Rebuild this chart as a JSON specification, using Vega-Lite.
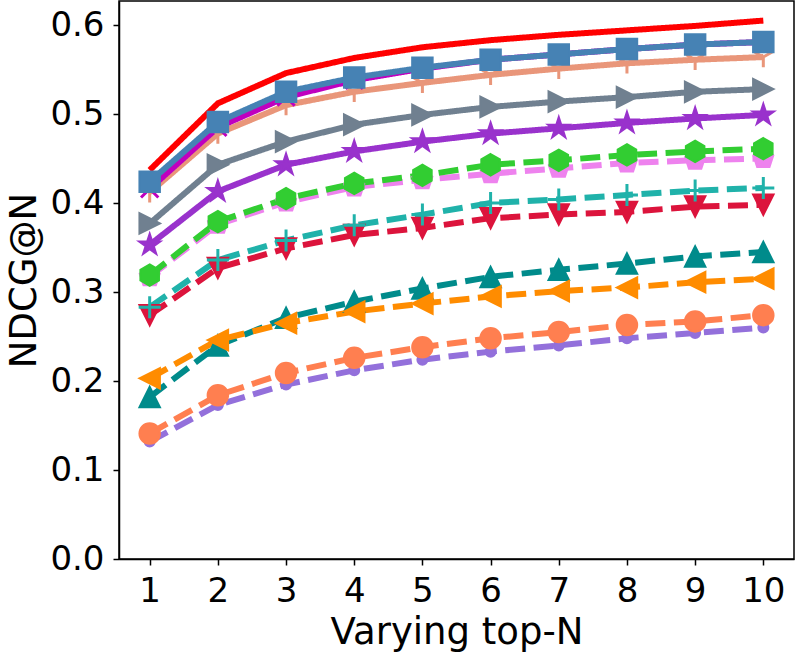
{
  "$schema": "https://vega.github.io/schema/vega-lite/v6.json",
  "width": 675,
  "height": 558,
  "autosize": {"type": "none"},
  "padding": {"left": 119, "top": 1, "right": 3, "bottom": 98},
  "background": "white",
  "config": {
    "font": "DejaVu Sans",
    "view": {"stroke": "black", "strokeWidth": 1.5},
    "axis": {
      "grid": false,
      "domainColor": "black",
      "domainWidth": 1.5,
      "tickColor": "black",
      "tickWidth": 1.5,
      "tickSize": 6,
      "labelFont": "DejaVu Sans",
      "labelFontSize": 34,
      "labelColor": "black",
      "labelPadding": 9,
      "titleFont": "DejaVu Sans",
      "titleFontSize": 37,
      "titleFontWeight": "normal",
      "titleColor": "black"
    }
  },
  "data": {
    "values": [
      {"s": "S01", "n": 1, "v": 0.132}, {"s": "S01", "n": 2, "v": 0.173}, {"s": "S01", "n": 3, "v": 0.196}, {"s": "S01", "n": 4, "v": 0.212}, {"s": "S01", "n": 5, "v": 0.224}, {"s": "S01", "n": 6, "v": 0.233}, {"s": "S01", "n": 7, "v": 0.240}, {"s": "S01", "n": 8, "v": 0.248}, {"s": "S01", "n": 9, "v": 0.254}, {"s": "S01", "n": 10, "v": 0.260},
      {"s": "S02", "n": 1, "v": 0.141}, {"s": "S02", "n": 2, "v": 0.184}, {"s": "S02", "n": 3, "v": 0.209}, {"s": "S02", "n": 4, "v": 0.226}, {"s": "S02", "n": 5, "v": 0.238}, {"s": "S02", "n": 6, "v": 0.248}, {"s": "S02", "n": 7, "v": 0.255}, {"s": "S02", "n": 8, "v": 0.263}, {"s": "S02", "n": 9, "v": 0.267}, {"s": "S02", "n": 10, "v": 0.274},
      {"s": "S03", "n": 1, "v": 0.182}, {"s": "S03", "n": 2, "v": 0.240}, {"s": "S03", "n": 3, "v": 0.271}, {"s": "S03", "n": 4, "v": 0.289}, {"s": "S03", "n": 5, "v": 0.304}, {"s": "S03", "n": 6, "v": 0.317}, {"s": "S03", "n": 7, "v": 0.325}, {"s": "S03", "n": 8, "v": 0.332}, {"s": "S03", "n": 9, "v": 0.340}, {"s": "S03", "n": 10, "v": 0.345},
      {"s": "S04", "n": 1, "v": 0.203}, {"s": "S04", "n": 2, "v": 0.246}, {"s": "S04", "n": 3, "v": 0.265}, {"s": "S04", "n": 4, "v": 0.278}, {"s": "S04", "n": 5, "v": 0.287}, {"s": "S04", "n": 6, "v": 0.295}, {"s": "S04", "n": 7, "v": 0.301}, {"s": "S04", "n": 8, "v": 0.305}, {"s": "S04", "n": 9, "v": 0.311}, {"s": "S04", "n": 10, "v": 0.315},
      {"s": "S05", "n": 1, "v": 0.274}, {"s": "S05", "n": 2, "v": 0.327}, {"s": "S05", "n": 3, "v": 0.349}, {"s": "S05", "n": 4, "v": 0.364}, {"s": "S05", "n": 5, "v": 0.372}, {"s": "S05", "n": 6, "v": 0.383}, {"s": "S05", "n": 7, "v": 0.387}, {"s": "S05", "n": 8, "v": 0.390}, {"s": "S05", "n": 9, "v": 0.396}, {"s": "S05", "n": 10, "v": 0.398},
      {"s": "S06", "n": 1, "v": 0.283}, {"s": "S06", "n": 2, "v": 0.336}, {"s": "S06", "n": 3, "v": 0.358}, {"s": "S06", "n": 4, "v": 0.375}, {"s": "S06", "n": 5, "v": 0.387}, {"s": "S06", "n": 6, "v": 0.400}, {"s": "S06", "n": 7, "v": 0.404}, {"s": "S06", "n": 8, "v": 0.409}, {"s": "S06", "n": 9, "v": 0.414}, {"s": "S06", "n": 10, "v": 0.417},
      {"s": "S07", "n": 1, "v": 0.317}, {"s": "S07", "n": 2, "v": 0.376}, {"s": "S07", "n": 3, "v": 0.401}, {"s": "S07", "n": 4, "v": 0.418}, {"s": "S07", "n": 5, "v": 0.426}, {"s": "S07", "n": 6, "v": 0.433}, {"s": "S07", "n": 7, "v": 0.439}, {"s": "S07", "n": 8, "v": 0.445}, {"s": "S07", "n": 9, "v": 0.448}, {"s": "S07", "n": 10, "v": 0.450},
      {"s": "S08", "n": 1, "v": 0.319}, {"s": "S08", "n": 2, "v": 0.379}, {"s": "S08", "n": 3, "v": 0.405}, {"s": "S08", "n": 4, "v": 0.422}, {"s": "S08", "n": 5, "v": 0.431}, {"s": "S08", "n": 6, "v": 0.443}, {"s": "S08", "n": 7, "v": 0.448}, {"s": "S08", "n": 8, "v": 0.454}, {"s": "S08", "n": 9, "v": 0.458}, {"s": "S08", "n": 10, "v": 0.461},
      {"s": "S09", "n": 1, "v": 0.353}, {"s": "S09", "n": 2, "v": 0.413}, {"s": "S09", "n": 3, "v": 0.443}, {"s": "S09", "n": 4, "v": 0.458}, {"s": "S09", "n": 5, "v": 0.469}, {"s": "S09", "n": 6, "v": 0.478}, {"s": "S09", "n": 7, "v": 0.484}, {"s": "S09", "n": 8, "v": 0.490}, {"s": "S09", "n": 9, "v": 0.495}, {"s": "S09", "n": 10, "v": 0.499},
      {"s": "S10", "n": 1, "v": 0.377}, {"s": "S10", "n": 2, "v": 0.443}, {"s": "S10", "n": 3, "v": 0.469}, {"s": "S10", "n": 4, "v": 0.488}, {"s": "S10", "n": 5, "v": 0.499}, {"s": "S10", "n": 6, "v": 0.508}, {"s": "S10", "n": 7, "v": 0.514}, {"s": "S10", "n": 8, "v": 0.519}, {"s": "S10", "n": 9, "v": 0.525}, {"s": "S10", "n": 10, "v": 0.528},
      {"s": "S11", "n": 1, "v": 0.412}, {"s": "S11", "n": 2, "v": 0.478}, {"s": "S11", "n": 3, "v": 0.510}, {"s": "S11", "n": 4, "v": 0.525}, {"s": "S11", "n": 5, "v": 0.535}, {"s": "S11", "n": 6, "v": 0.544}, {"s": "S11", "n": 7, "v": 0.551}, {"s": "S11", "n": 8, "v": 0.557}, {"s": "S11", "n": 9, "v": 0.561}, {"s": "S11", "n": 10, "v": 0.564},
      {"s": "S12", "n": 1, "v": 0.416}, {"s": "S12", "n": 2, "v": 0.485}, {"s": "S12", "n": 3, "v": 0.519}, {"s": "S12", "n": 4, "v": 0.538}, {"s": "S12", "n": 5, "v": 0.551}, {"s": "S12", "n": 6, "v": 0.561}, {"s": "S12", "n": 7, "v": 0.567}, {"s": "S12", "n": 8, "v": 0.573}, {"s": "S12", "n": 9, "v": 0.578}, {"s": "S12", "n": 10, "v": 0.581},
      {"s": "S13", "n": 1, "v": 0.424}, {"s": "S13", "n": 2, "v": 0.491}, {"s": "S13", "n": 3, "v": 0.525}, {"s": "S13", "n": 4, "v": 0.541}, {"s": "S13", "n": 5, "v": 0.552}, {"s": "S13", "n": 6, "v": 0.561}, {"s": "S13", "n": 7, "v": 0.567}, {"s": "S13", "n": 8, "v": 0.573}, {"s": "S13", "n": 9, "v": 0.578}, {"s": "S13", "n": 10, "v": 0.581},
      {"s": "S14", "n": 1, "v": 0.437}, {"s": "S14", "n": 2, "v": 0.512}, {"s": "S14", "n": 3, "v": 0.546}, {"s": "S14", "n": 4, "v": 0.563}, {"s": "S14", "n": 5, "v": 0.575}, {"s": "S14", "n": 6, "v": 0.583}, {"s": "S14", "n": 7, "v": 0.589}, {"s": "S14", "n": 8, "v": 0.594}, {"s": "S14", "n": 9, "v": 0.599}, {"s": "S14", "n": 10, "v": 0.605}
    ]
  },
  "encoding": {
    "x": {
      "field": "n",
      "type": "quantitative",
      "scale": {"domain": [0.55, 10.45], "nice": false, "zero": false},
      "axis": {"values": [1, 2, 3, 4, 5, 6, 7, 8, 9, 10], "format": "d", "title": "Varying top-N", "titlePadding": 6}
    },
    "y": {
      "field": "v",
      "type": "quantitative",
      "scale": {"domain": [0, 0.627], "nice": false},
      "axis": {"values": [0, 0.1, 0.2, 0.3, 0.4, 0.5, 0.6], "format": ".1f", "title": "NDCG@N", "titlePadding": 6}
    },
    "color": {
      "field": "s",
      "type": "nominal",
      "legend": null,
      "scale": {
        "domain": ["S01", "S02", "S03", "S04", "S05", "S06", "S07", "S08", "S09", "S10", "S11", "S12", "S13", "S14"],
        "range": ["#9370DB", "#FF7F50", "#008B8B", "#FF8C00", "#DC143C", "#20B2AA", "#EE82EE", "#32CD32", "#9932CC", "#708090", "#E9967A", "#BF00BF", "#4682B4", "#FF0000"]
      }
    }
  },
  "layer": [
    {
      "mark": {"type": "line", "strokeWidth": 6, "strokeJoin": "round"},
      "encoding": {
        "strokeDash": {
          "field": "s",
          "type": "nominal",
          "legend": null,
          "scale": {
            "type": "ordinal",
            "domain": ["S01", "S02", "S03", "S04", "S05", "S06", "S07", "S08", "S09", "S10", "S11", "S12", "S13", "S14"],
            "range": [[20, 8.5], [20, 8.5], [20, 8.5], [20, 8.5], [20, 8.5], [20, 8.5], [20, 8.5], [20, 8.5], [1, 0], [1, 0], [1, 0], [1, 0], [1, 0], [1, 0]]
          }
        }
      }
    },
    {
      "transform": [{"filter": {"field": "s", "oneOf": ["S11", "S12"]}}],
      "mark": {"type": "point", "filled": false, "strokeWidth": 3, "opacity": 1},
      "encoding": {
        "shape": {
          "field": "s",
          "type": "nominal",
          "legend": null,
          "scale": {
            "type": "ordinal",
            "domain": ["S01", "S02", "S03", "S04", "S05", "S06", "S07", "S08", "S09", "S10", "S11", "S12", "S13", "S14"],
            "range": [
              "circle",
              "circle",
              "M0,-1L-1,1L1,1Z",
              "M-1,0L1,-1L1,1Z",
              "M0,1L-1,-1L1,-1Z",
              "M-1,0L1,0M0,-1L0,1",
              "M0,-1L0.9511,-0.309L0.5878,0.809L-0.5878,0.809L-0.9511,-0.309Z",
              "M0,-1L0.866,-0.5L0.866,0.5L0,1L-0.866,0.5L-0.866,-0.5Z",
              "M0,-1L0.2245,-0.309L0.9511,-0.309L0.3633,0.118L0.5878,0.809L0,0.382L-0.5878,0.809L-0.3633,0.118L-0.9511,-0.309L-0.2245,-0.309Z",
              "M1,0L-1,-1L-1,1Z",
              "M0,0L0,1M0,0L-0.866,-0.5M0,0L0.866,-0.5",
              "M-1,-1L1,1M-1,1L1,-1",
              "square",
              "circle"
            ]
          }
        },
        "size": {
          "field": "s",
          "type": "nominal",
          "legend": null,
          "scale": {
            "type": "ordinal",
            "domain": ["S01", "S02", "S03", "S04", "S05", "S06", "S07", "S08", "S09", "S10", "S11", "S12", "S13", "S14"],
            "range": [100, 420, 420, 420, 420, 484, 440, 460, 500, 420, 420, 300, 420, 10]
          }
        }
      }
    },
    {
      "transform": [{"filter": {"field": "s", "oneOf": ["S01", "S02", "S03", "S04", "S05", "S07", "S08", "S09", "S10", "S13"]}}],
      "mark": {"type": "point", "filled": true, "opacity": 1, "strokeWidth": 2, "strokeJoin": "miter"},
      "encoding": {
        "stroke": {
          "field": "s",
          "type": "nominal",
          "legend": null,
          "scale": {
            "domain": ["S01", "S02", "S03", "S04", "S05", "S06", "S07", "S08", "S09", "S10", "S11", "S12", "S13", "S14"],
            "range": ["#9370DB", "#FF7F50", "#008B8B", "#FF8C00", "#DC143C", "#20B2AA", "#EE82EE", "#32CD32", "#9932CC", "#708090", "#E9967A", "#BF00BF", "#4682B4", "#FF0000"]
          }
        },
        "shape": {
          "field": "s",
          "type": "nominal",
          "legend": null,
          "scale": {
            "type": "ordinal",
            "domain": ["S01", "S02", "S03", "S04", "S05", "S06", "S07", "S08", "S09", "S10", "S11", "S12", "S13", "S14"],
            "range": [
              "circle",
              "circle",
              "M0,-1L-1,1L1,1Z",
              "M-1,0L1,-1L1,1Z",
              "M0,1L-1,-1L1,-1Z",
              "M-1,0L1,0M0,-1L0,1",
              "M0,-1L0.9511,-0.309L0.5878,0.809L-0.5878,0.809L-0.9511,-0.309Z",
              "M0,-1L0.866,-0.5L0.866,0.5L0,1L-0.866,0.5L-0.866,-0.5Z",
              "M0,-1L0.2245,-0.309L0.9511,-0.309L0.3633,0.118L0.5878,0.809L0,0.382L-0.5878,0.809L-0.3633,0.118L-0.9511,-0.309L-0.2245,-0.309Z",
              "M1,0L-1,-1L-1,1Z",
              "M0,0L0,1M0,0L-0.866,-0.5M0,0L0.866,-0.5",
              "M-1,-1L1,1M-1,1L1,-1",
              "square",
              "circle"
            ]
          }
        },
        "size": {
          "field": "s",
          "type": "nominal",
          "legend": null,
          "scale": {
            "type": "ordinal",
            "domain": ["S01", "S02", "S03", "S04", "S05", "S06", "S07", "S08", "S09", "S10", "S11", "S12", "S13", "S14"],
            "range": [100, 420, 420, 420, 420, 484, 440, 460, 500, 420, 420, 300, 420, 10]
          }
        }
      }
    },
    {
      "transform": [{"filter": {"field": "s", "equal": "S06"}}],
      "mark": {"type": "point", "filled": false, "strokeWidth": 3, "opacity": 1},
      "encoding": {
        "shape": {
          "field": "s",
          "type": "nominal",
          "legend": null,
          "scale": {
            "type": "ordinal",
            "domain": ["S01", "S02", "S03", "S04", "S05", "S06", "S07", "S08", "S09", "S10", "S11", "S12", "S13", "S14"],
            "range": [
              "circle",
              "circle",
              "M0,-1L-1,1L1,1Z",
              "M-1,0L1,-1L1,1Z",
              "M0,1L-1,-1L1,-1Z",
              "M-1,0L1,0M0,-1L0,1",
              "M0,-1L0.9511,-0.309L0.5878,0.809L-0.5878,0.809L-0.9511,-0.309Z",
              "M0,-1L0.866,-0.5L0.866,0.5L0,1L-0.866,0.5L-0.866,-0.5Z",
              "M0,-1L0.2245,-0.309L0.9511,-0.309L0.3633,0.118L0.5878,0.809L0,0.382L-0.5878,0.809L-0.3633,0.118L-0.9511,-0.309L-0.2245,-0.309Z",
              "M1,0L-1,-1L-1,1Z",
              "M0,0L0,1M0,0L-0.866,-0.5M0,0L0.866,-0.5",
              "M-1,-1L1,1M-1,1L1,-1",
              "square",
              "circle"
            ]
          }
        },
        "size": {
          "field": "s",
          "type": "nominal",
          "legend": null,
          "scale": {
            "type": "ordinal",
            "domain": ["S01", "S02", "S03", "S04", "S05", "S06", "S07", "S08", "S09", "S10", "S11", "S12", "S13", "S14"],
            "range": [100, 420, 420, 420, 420, 484, 440, 460, 500, 420, 420, 300, 420, 10]
          }
        }
      }
    }
  ]
}
